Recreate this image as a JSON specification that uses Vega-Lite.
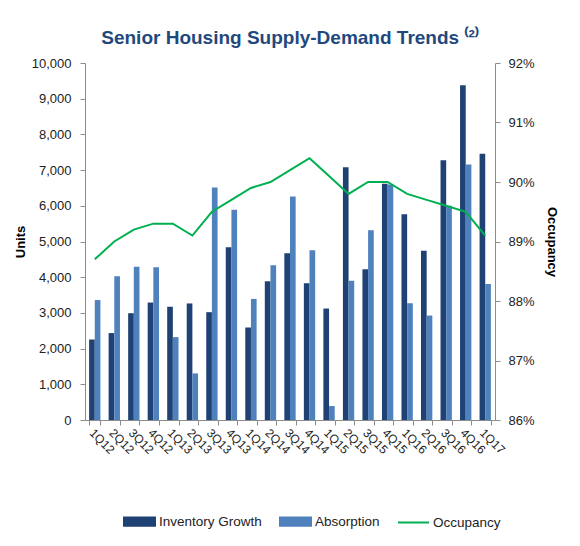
{
  "$schema": "https://vega.github.io/schema/vega-lite/v6.json",
  "width": 410,
  "height": 357,
  "padding": {"left": 14, "top": 29, "right": 5, "bottom": 5},
  "background": "white",
  "title": {
    "text": "Senior Housing Supply-Demand Trends ⁽²⁾",
    "font": "Liberation Sans",
    "fontSize": 19,
    "fontWeight": "bold",
    "color": "#1F497D",
    "anchor": "middle",
    "offset": 9
  },
  "data": {
    "values": [
      {"q": "1Q12", "Inventory Growth": 2255, "Absorption": 3360, "occ": 0.887},
      {"q": "2Q12", "Inventory Growth": 2435, "Absorption": 4026, "occ": 0.890},
      {"q": "3Q12", "Inventory Growth": 2992, "Absorption": 4290, "occ": 0.892},
      {"q": "4Q12", "Inventory Growth": 3290, "Absorption": 4278, "occ": 0.893},
      {"q": "1Q13", "Inventory Growth": 3172, "Absorption": 2321, "occ": 0.893},
      {"q": "2Q13", "Inventory Growth": 3265, "Absorption": 1305, "occ": 0.891},
      {"q": "3Q13", "Inventory Growth": 3020, "Absorption": 6514, "occ": 0.895},
      {"q": "4Q13", "Inventory Growth": 4837, "Absorption": 5890, "occ": 0.897},
      {"q": "1Q14", "Inventory Growth": 2591, "Absorption": 3392, "occ": 0.899},
      {"q": "2Q14", "Inventory Growth": 3886, "Absorption": 4334, "occ": 0.900},
      {"q": "3Q14", "Inventory Growth": 4669, "Absorption": 6263, "occ": 0.902},
      {"q": "4Q14", "Inventory Growth": 3830, "Absorption": 4753, "occ": 0.904},
      {"q": "1Q15", "Inventory Growth": 3122, "Absorption": 391, "occ": 0.901},
      {"q": "2Q15", "Inventory Growth": 7083, "Absorption": 3900, "occ": 0.898},
      {"q": "3Q15", "Inventory Growth": 4222, "Absorption": 5312, "occ": 0.900},
      {"q": "4Q15", "Inventory Growth": 6620, "Absorption": 6600, "occ": 0.900},
      {"q": "1Q16", "Inventory Growth": 5760, "Absorption": 3271, "occ": 0.898},
      {"q": "2Q16", "Inventory Growth": 4744, "Absorption": 2926, "occ": 0.897},
      {"q": "3Q16", "Inventory Growth": 7279, "Absorption": 6000, "occ": 0.896},
      {"q": "4Q16", "Inventory Growth": 9376, "Absorption": 7157, "occ": 0.895},
      {"q": "1Q17", "Inventory Growth": 7456, "Absorption": 3812, "occ": 0.891}
    ]
  },
  "encoding": {
    "x": {
      "field": "q",
      "type": "nominal",
      "sort": null,
      "scale": {"paddingInner": 0.42, "paddingOuter": 0.21},
      "axis": {
        "title": null,
        "labelAngle": 45,
        "labelFontSize": 12,
        "labelColor": "#222",
        "tickBand": "extent",
        "tickSize": 5,
        "domainColor": "#8c8c8c",
        "tickColor": "#8c8c8c"
      }
    }
  },
  "layer": [
    {
      "transform": [
        {"fold": ["Inventory Growth", "Absorption"], "as": ["series", "units"]}
      ],
      "mark": {"type": "bar"},
      "encoding": {
        "xOffset": {
          "field": "series",
          "type": "nominal",
          "sort": ["Inventory Growth", "Absorption"],
          "scale": {"paddingInner": 0, "paddingOuter": 0}
        },
        "y": {
          "field": "units",
          "type": "quantitative",
          "scale": {"domain": [0, 10000], "nice": false},
          "axis": {
            "title": "Units",
            "titleFontSize": 13,
            "titleFontWeight": "bold",
            "titleColor": "#000",
            "titlePadding": 4,
            "format": ",.0f",
            "values": [0, 1000, 2000, 3000, 4000, 5000, 6000, 7000, 8000, 9000, 10000],
            "labelFontSize": 13,
            "labelColor": "#222",
            "labelPadding": 9,
            "tickSize": 5,
            "grid": false,
            "domainColor": "#8c8c8c",
            "tickColor": "#8c8c8c"
          }
        },
        "color": {
          "field": "series",
          "type": "nominal",
          "scale": {
            "domain": ["Inventory Growth", "Absorption", "Occupancy"],
            "range": ["#1F4173", "#4F81BD", "#00B050"]
          },
          "legend": {
            "title": null,
            "orient": "none",
            "direction": "horizontal",
            "legendX": 38,
            "legendY": 442,
            "labelFontSize": 13.5,
            "labelColor": "#222",
            "symbolSize": 961,
            "labelOffset": 3,
            "columnPadding": 14,
            "encode": {
              "symbols": {
                "update": {
                  "shape": {"signal": "datum.value === 'Occupancy' ? 'M-1,0H1' : 'M-1,-0.27H1V0.27H-1Z'"},
                  "fill": {"signal": "datum.value === 'Occupancy' ? 'transparent' : scale('color', datum.value)"},
                  "stroke": {"signal": "datum.value === 'Occupancy' ? scale('color', datum.value) : 'transparent'"},
                  "strokeWidth": {"value": 2},
                  "opacity": {"value": 1}
                }
              }
            }
          }
        }
      }
    },
    {
      "mark": {"type": "line", "strokeWidth": 2},
      "encoding": {
        "y": {
          "field": "occ",
          "type": "quantitative",
          "scale": {"domain": [0.86, 0.92], "nice": false},
          "axis": {
            "orient": "right",
            "title": "Occupancy",
            "titleFontSize": 13,
            "titleFontWeight": "bold",
            "titleColor": "#000",
            "titlePadding": 10,
            "format": ".0%",
            "values": [0.86, 0.87, 0.88, 0.89, 0.90, 0.91, 0.92],
            "labelFontSize": 13,
            "labelColor": "#222",
            "labelPadding": 8,
            "tickSize": 5,
            "grid": false,
            "domainColor": "#8c8c8c",
            "tickColor": "#8c8c8c"
          }
        },
        "color": {"datum": "Occupancy"}
      }
    }
  ],
  "resolve": {"scale": {"y": "independent"}},
  "config": {
    "font": "Liberation Sans",
    "view": {"stroke": null}
  }
}
